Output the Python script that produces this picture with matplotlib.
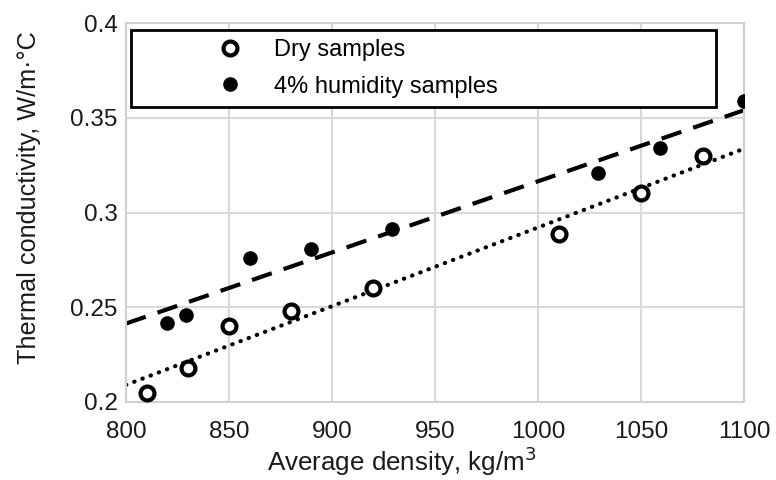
import numpy as np
import matplotlib
matplotlib.use("Agg")
import matplotlib.pyplot as plt

plt.rcParams['font.family'] = ['Liberation Sans', 'DejaVu Sans']

# dry samples
dry_density = [810, 830, 850, 880, 920, 1010, 1050, 1080]
dry_k = [0.205, 0.218, 0.240, 0.248, 0.260, 0.2885, 0.3105, 0.330]

# 4% humidity samples
hum_density = [820, 829, 860, 890, 929, 1029, 1059, 1100]
hum_k = [0.2415, 0.246, 0.276, 0.281, 0.2915, 0.321, 0.334, 0.359]

x_ticks = [800, 850, 900, 950, 1000, 1050, 1100]
y_ticks = [0.2, 0.25, 0.3, 0.35, 0.4]
y_tick_labels = ["0.2", "0.25", "0.3", "0.35", "0.4"]

fig = plt.figure(figsize=(7.76, 4.8), dpi=100)
ax = fig.add_axes([126 / 776, 78 / 480, 618 / 776, 379 / 480])

# linear trend lines
xs = np.array([800, 1100])
p_dry = np.polyfit(dry_density, dry_k, 1)
p_hum = np.polyfit(hum_density, hum_k, 1)
ax.plot(xs, np.polyval(p_dry, xs), color="black", lw=3.0, linestyle=(0, (0.1, 2.0)),
        dash_capstyle="round", zorder=2)
ax.plot(xs, np.polyval(p_hum, xs), color="black", lw=3.0, linestyle=(0, (5.0, 3.0)), zorder=2)

ax.plot(dry_density, dry_k, "o", ms=10, mfc="white", mec="black", mew=3.0,
        linestyle="none", label="Dry samples", zorder=3)
ax.plot(hum_density, hum_k, "o", ms=9.5, color="black",
        linestyle="none", label="4% humidity samples", zorder=3)

ax.set_xlim(800, 1100)
ax.set_ylim(0.2, 0.4)
ax.set_xticks(x_ticks)
ax.set_yticks(y_ticks)
ax.set_yticklabels(y_tick_labels)
ax.tick_params(length=0, labelsize=17.5, colors="#1a1a1a")
ax.tick_params(axis="x", pad=14)
ax.tick_params(axis="y", pad=6)
ax.grid(True, color="#d9d9d9", lw=1.5)
ax.set_axisbelow(True)
for s in ax.spines.values():
    s.set_color("#d0d0d0")
    s.set_linewidth(1.5)

ax.set_xlabel("Average density, kg/m$^3$", fontsize=18.7, color="#1a1a1a", labelpad=1, x=0.447)
ax.set_ylabel("Thermal conductivity, W/m·°C", fontsize=18.2, color="#1a1a1a")
ax.yaxis.set_label_coords(-0.138, 0.54)

leg = ax.legend(loc="upper left", bbox_to_anchor=(0.008, 0.9815, 0.947, 0.0), mode="expand",
                fontsize=17, frameon=True, fancybox=False, edgecolor="black",
                borderpad=0.4, handletextpad=-1.95, labelspacing=0.6,
                borderaxespad=0, handlelength=7.6, framealpha=1)
leg.get_frame().set_linewidth(2.0)

fig.savefig("out.png", dpi=100)
